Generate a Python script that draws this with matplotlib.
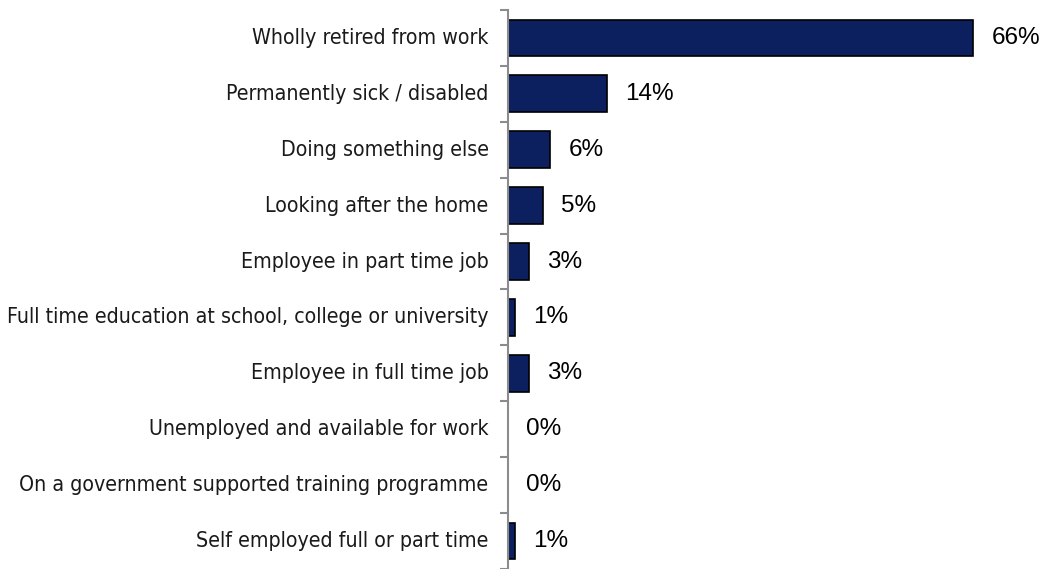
import matplotlib
matplotlib.use("Agg")
import matplotlib.pyplot as plt
from matplotlib import font_manager

# Economic activity of respondents (percent)
categories = [
    "Wholly retired from work",
    "Permanently sick / disabled",
    "Doing something else",
    "Looking after the home",
    "Employee in part time job",
    "Full time education at school, college or university",
    "Employee in full time job",
    "Unemployed and available for work",
    "On a government supported training programme",
    "Self employed full or part time",
]
values = [66, 14, 6, 5, 3, 1, 3, 0, 0, 1]
value_labels = ["66%", "14%", "6%", "5%", "3%", "1%", "3%", "0%", "0%", "1%"]

bar_color = "#0c1f5e"
axis_gray = "#8c8c8c"

# use the condensed DejaVu face for category names if it is around
cond = font_manager.FontProperties(family="DejaVu Sans", stretch="condensed")
have_cond = "Condensed" in font_manager.findfont(cond, fallback_to_default=True)
name_size = 15.3 if have_cond else 13.2
name_stretch = "condensed" if have_cond else "normal"

fig = plt.figure(figsize=(10.46, 5.69), dpi=100)
left = 508 / 1046
ax = fig.add_axes([left, 0.0, 1 - left - 0.004, 1 - 10 / 569])

y = list(range(len(categories)))
ax.barh(y, values, height=0.66, color=bar_color, edgecolor="black", linewidth=1.2)
ax.set_ylim(len(categories) - 0.5, -0.5)
ax.set_xlim(0, 75.7)

for yi, v, lab in zip(y, values, value_labels):
    ax.annotate(lab, (v, yi), xytext=(13, 0), textcoords="offset points",
                va="center", ha="left", fontsize=17.5, family="Liberation Sans",
                color="black", annotation_clip=False)

# category names as text, ticks sit on the boundaries between rows
for yi, name in zip(y, categories):
    ax.annotate(name, (0, yi), xytext=(-14, 0), textcoords="offset points",
                va="center", ha="right", fontsize=name_size,
                family="DejaVu Sans", fontstretch=name_stretch,
                color="#1a1a1a", annotation_clip=False)

ax.set_yticks([i - 0.5 for i in range(len(categories) + 1)])
ax.set_yticklabels([])
ax.tick_params(axis="y", direction="out", length=6, width=1.5, color=axis_gray)
ax.set_xticks([])

for side in ["top", "right", "bottom"]:
    ax.spines[side].set_visible(False)
ax.spines["left"].set_color(axis_gray)
ax.spines["left"].set_linewidth(1.5)

fig.savefig("out.png", dpi=100)
